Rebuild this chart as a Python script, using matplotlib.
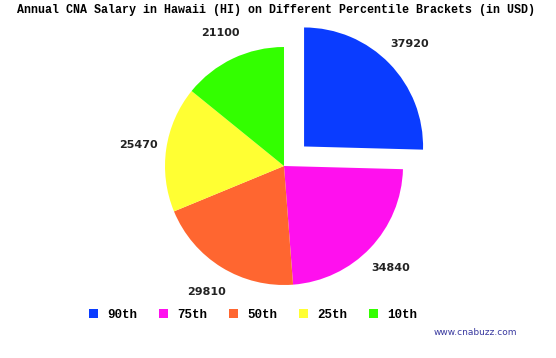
import matplotlib
matplotlib.use("Agg")
import matplotlib.pyplot as plt

labels = ["90th", "75th", "50th", "25th", "10th"]
values = [37920, 34840, 29810, 25470, 21100]
colors = ["#0a3cff", "#ff10ee", "#ff6630", "#ffff33", "#33ff00"]

fig = plt.figure(figsize=(5.56, 3.58), dpi=100)
ax = fig.add_axes([0, 0, 1, 1])

# axes in pixel units so the pie sits where it does in the original
wedges, texts = ax.pie(values, colors=colors, labels=[str(v) for v in values],
                       startangle=90, counterclock=False,
                       explode=[28, 0, 0, 0, 0],
                       center=(284, 192), radius=119, labeldistance=1.24,
                       textprops=dict(fontsize=8, fontweight="bold", color="#222222"),
                       frame=True)
for t in texts:
    t.set_ha("center")
ax.set_xlim(0, 556)
ax.set_ylim(0, 358)
ax.set_aspect("equal")
ax.axis("off")

fig.text(0.03, 0.972, "Annual CNA Salary in Hawaii (HI) on Different Percentile Brackets (in USD)",
         fontsize=8.4, fontweight="bold", family="Liberation Mono", va="center", ha="left")

leg = fig.legend(wedges, labels, loc="center", bbox_to_anchor=(0.455, 0.12), ncol=5,
                 frameon=False, handlelength=0.75, handleheight=0.75, columnspacing=1.75,
                 handletextpad=0.7, prop=dict(family="Liberation Mono", weight="bold", size=9))

fig.text(0.93, 0.072, "www.cnabuzz.com", fontsize=6.5, color="#3a3aa0", ha="right", va="center")

fig.savefig("out.png", dpi=100)
